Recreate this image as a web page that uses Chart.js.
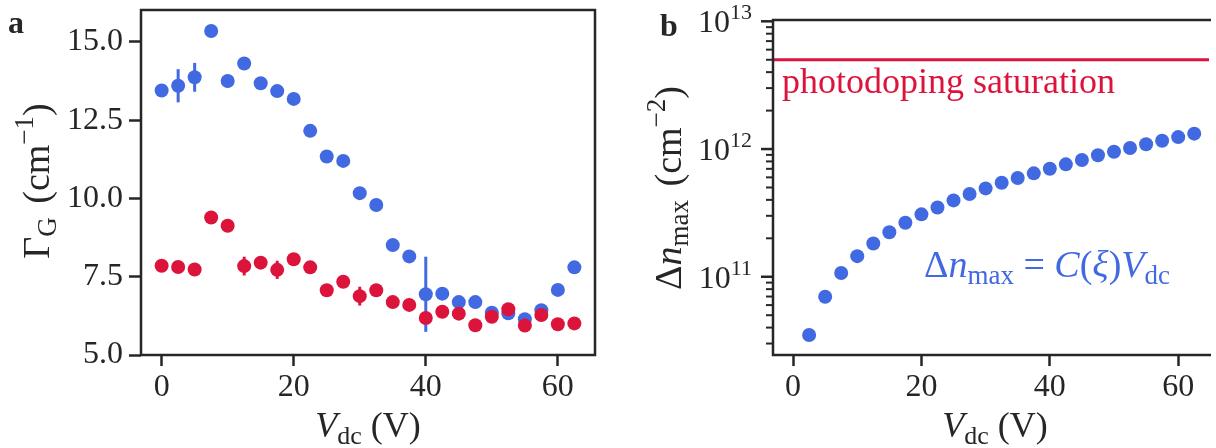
<!DOCTYPE html>
<html lang="en">

<head>
    <meta charset="UTF-8">
    <title>linewidth and photodoping</title>
    <script src="https://cdn.jsdelivr.net/npm/chart.js@4.4.1/dist/chart.umd.min.js"></script>
    <style>
        body {
            margin: 0;
            background: #fff;
            overflow: hidden;
        }

        canvas {
            position: absolute;
            top: 0;
        }
    </style>
</head>

<body>
    <canvas id="chartA" width="620" height="448" style="left:0"></canvas>
    <canvas id="chartB" width="596" height="448" style="left:620px"></canvas>

    <script>
        // panel a: G-peak width vs dc voltage
        const vdc = [0, 2.5, 5, 7.5, 10, 12.5, 15, 17.5, 20, 22.5, 25, 27.5, 30, 32.5, 35, 37.5, 40, 42.5, 45, 47.5, 50, 52.5, 55, 57.5, 60, 62.5];
        const gammaBlue = [13.45, 13.6, 13.87, 15.35, 13.75, 14.31, 13.68, 13.43, 13.18, 12.16, 11.34, 11.2, 10.17, 9.79, 8.51, 8.15, 6.94, 6.96, 6.69, 6.69, 6.35, 6.33, 6.14, 6.43, 7.08, 7.8];
        const errBlue = [0, 0.53, 0.46, 0, 0.2, 0, 0, 0, 0, 0, 0, 0, 0, 0, 0, 0, 1.2, 0, 0, 0, 0, 0, 0, 0, 0, 0];
        const gammaRed = [7.85, 7.81, 7.73, 9.39, 9.13, 7.84, 7.95, 7.72, 8.06, 7.8, 7.07, 7.34, 6.88, 7.07, 6.69, 6.6, 6.18, 6.38, 6.32, 5.95, 6.22, 6.46, 5.94, 6.28, 5.98, 6.01];
        const errRed = [0, 0, 0, 0, 0, 0.3, 0, 0.29, 0, 0, 0, 0, 0.3, 0, 0, 0, 0, 0, 0, 0, 0, 0, 0, 0, 0, 0];
        const gammaTicks = [5, 7.5, 10, 12.5, 15];
        const vTicks = [0, 20, 40, 60];

        // panel b: max photodoping
        const vdcB = [2.5, 5, 7.5, 10, 12.5, 15, 17.5, 20, 22.5, 25, 27.5, 30, 32.5, 35, 37.5, 40, 42.5, 45, 47.5, 50, 52.5, 55, 57.5, 60, 62.5];
        const dnMax = [3.5e10, 6.97e10, 1.07e11, 1.45e11, 1.82e11, 2.23e11, 2.65e11, 3.08e11, 3.49e11, 3.96e11, 4.44e11, 4.92e11, 5.45e11, 5.93e11, 6.45e11, 7.01e11, 7.59e11, 8.2e11, 8.93e11, 9.53e11, 1.02e12, 1.09e12, 1.16e12, 1.24e12, 1.32e12];
        const saturation = 5e12;
        const dnMajor = [1e11, 1e12, 1e13];

        const BLUE = '#4169E1';
        const RED = '#DC143C';
        const INK = '#262626';
        const SERIF = '"Liberation Serif", "Times New Roman", serif';

        function pts(xs, ys) {
            return xs.map((x, i) => ({ x: x, y: ys[i] }));
        }

        // draws a row of text pieces (sub/superscripts, italics) from a baseline point
        function rich(ctx, parts, x, y, align, angle, color) {
            ctx.save();
            ctx.translate(x, y);
            ctx.rotate(angle || 0);
            ctx.textBaseline = 'alphabetic';
            ctx.textAlign = 'left';
            let total = 0;
            parts.forEach(p => {
                ctx.font = (p.it ? 'italic ' : '') + (p.b ? 'bold ' : '') + (p.s || 36) + 'px ' + SERIF;
                p.w = ctx.measureText(p.t).width + (p.gap || 0);
                total += p.w;
            });
            let cx = align === 'center' ? -total / 2 : align === 'right' ? -total : 0;
            parts.forEach(p => {
                ctx.font = (p.it ? 'italic ' : '') + (p.b ? 'bold ' : '') + (p.s || 36) + 'px ' + SERIF;
                ctx.fillStyle = color || INK;
                ctx.fillText(p.t, cx, p.dy || 0);
                cx += p.w;
            });
            ctx.restore();
        }

        const vLabel = [{ t: 'V', it: true }, { t: 'dc', s: 26, dy: 7 }, { t: ' (V)' }];

        const errorBars = {
            id: 'errorBars',
            beforeDatasetDraw(chart, args) {
                const ds = chart.data.datasets[args.index];
                if (!ds.err) return;
                const ctx = chart.ctx, xs = chart.scales.x, ys = chart.scales.y;
                ctx.save();
                ctx.strokeStyle = ds.backgroundColor;
                ctx.lineWidth = 3;
                ds.data.forEach((p, i) => {
                    const e = ds.err[i];
                    if (!e) return;
                    const x = xs.getPixelForValue(p.x);
                    ctx.beginPath();
                    ctx.moveTo(x, ys.getPixelForValue(p.y - e));
                    ctx.lineTo(x, ys.getPixelForValue(p.y + e));
                    ctx.stroke();
                });
                ctx.restore();
            }
        };

        const decoA = {
            id: 'decoA',
            afterDraw(chart) {
                const ctx = chart.ctx, a = chart.chartArea;
                ctx.save();
                ctx.strokeStyle = INK;
                ctx.lineWidth = 2.5;
                ctx.strokeRect(a.left, a.top, a.right - a.left, a.bottom - a.top);
                ctx.restore();
                rich(ctx, [{ t: 'a', b: true, s: 32 }], 8, 33, 'left');
                rich(ctx, [{ t: 'Γ', s: 38 }, { t: 'G', s: 27, dy: 7, gap: 4 }, { t: ' (cm', s: 38 }, { t: '−1', s: 27, dy: -16 }, { t: ')', s: 38 }],
                    49, 181, 'center', -Math.PI / 2);
                rich(ctx, vLabel, (a.left + a.right) / 2, 437, 'center');
            }
        };

        const decoB = {
            id: 'decoB',
            afterDraw(chart) {
                const ctx = chart.ctx, a = chart.chartArea, xs = chart.scales.x, ys = chart.scales.y;
                ctx.save();
                ctx.strokeStyle = INK;
                ctx.lineWidth = 2.5;
                ctx.beginPath();
                ctx.moveTo(a.right + 2, a.top);
                ctx.lineTo(a.left, a.top);
                ctx.lineTo(a.left, a.bottom);
                ctx.lineTo(a.right + 2, a.bottom);
                ctx.stroke();
                // log ticks, majors longer than minors
                ys.ticks.forEach(t => {
                    const y = ys.getPixelForValue(t.value);
                    const major = dnMajor.includes(t.value);
                    ctx.lineWidth = major ? 2.5 : 2;
                    ctx.beginPath();
                    ctx.moveTo(a.left, y);
                    ctx.lineTo(a.left - (major ? 12 : 7), y);
                    ctx.stroke();
                });
                ctx.restore();
                dnMajor.forEach(v => {
                    const y = ys.getPixelForValue(v);
                    const e = Math.round(Math.log10(v));
                    rich(ctx, [{ t: '10', s: 32 }, { t: String(e), s: 22, dy: -13 }], a.left - 21, y + 11, 'right');
                });
                rich(ctx, [{ t: 'b', b: true, s: 32 }], 40, 36, 'left');
                rich(ctx, [{ t: 'Δ', s: 38 }, { t: 'n', it: true, s: 38 }, { t: 'max', s: 27, dy: 7, gap: 4 }, { t: ' (cm', s: 38 }, { t: '−2', s: 27, dy: -16 }, { t: ')', s: 38 }],
                    61, 188, 'center', -Math.PI / 2);
                rich(ctx, vLabel, (a.left + a.right) / 2 + 4, 437, 'center');
                rich(ctx, [{ t: 'photodoping saturation', s: 36 }], a.left + 9, ys.getPixelForValue(saturation) + 33, 'left', 0, RED);
                rich(ctx, [{ t: 'Δ', s: 38 }, { t: 'n', it: true, s: 38 }, { t: 'max', s: 27, dy: 7 }, { t: ' = ', s: 38 }, { t: 'C', it: true, s: 38 }, { t: '(', s: 38 },
                    { t: 'ξ', it: true, s: 38 }, { t: ')', s: 38 }, { t: 'V', it: true, s: 38 }, { t: 'dc', s: 27, dy: 7 }],
                    xs.getPixelForValue(20.4), ys.getPixelForValue(1e11), 'left', 0, BLUE);
            }
        };

        const tickFont = { family: SERIF, size: 32 };

        // keep the plot boxes exactly where the figure has them
        function noPad(s) {
            s.paddingTop = 0;
            s.paddingBottom = 0;
            s.paddingLeft = 0;
            s.paddingRight = 0;
        }

        new Chart(document.getElementById('chartA'), {
            type: 'scatter',
            data: {
                datasets: [{
                    data: pts(vdc, gammaBlue),
                    err: errBlue,
                    backgroundColor: BLUE,
                    borderWidth: 0,
                    pointRadius: 7,
                    order: 2
                }, {
                    data: pts(vdc, gammaRed),
                    err: errRed,
                    backgroundColor: RED,
                    borderWidth: 0,
                    pointRadius: 7,
                    order: 1
                }]
            },
            options: {
                responsive: false,
                animation: false,
                layout: { padding: { top: 10, right: 25, left: 0, bottom: 0 } },
                plugins: { legend: { display: false }, tooltip: { enabled: false } },
                scales: {
                    x: {
                        type: 'linear', min: -3.125, max: 65.625,
                        afterBuildTicks: s => { s.ticks = vTicks.map(v => ({ value: v })); },
                        afterFit: s => { s.height = 93; noPad(s); },
                        border: { display: false },
                        grid: { drawOnChartArea: false, tickLength: 11, tickWidth: 2.5, tickColor: INK },
                        ticks: { font: tickFont, color: INK, padding: 2, maxRotation: 0 }
                    },
                    y: {
                        type: 'linear', min: 5, max: 16.02,
                        afterBuildTicks: s => { s.ticks = gammaTicks.map(v => ({ value: v })); },
                        afterFit: s => { s.width = 141; noPad(s); },
                        border: { display: false },
                        grid: { drawOnChartArea: false, tickLength: 12, tickWidth: 2.5, tickColor: INK },
                        ticks: { font: tickFont, color: INK, padding: 6, callback: v => v.toFixed(1) }
                    }
                }
            },
            plugins: [errorBars, decoA]
        });

        new Chart(document.getElementById('chartB'), {
            type: 'scatter',
            data: {
                datasets: [{
                    type: 'line',
                    data: [{ x: -3.125, y: saturation }, { x: 64.8, y: saturation }],
                    borderColor: RED,
                    borderWidth: 3,
                    pointRadius: 0,
                    order: 2
                }, {
                    data: pts(vdcB, dnMax),
                    backgroundColor: BLUE,
                    borderWidth: 0,
                    pointRadius: 7,
                    order: 1
                }]
            },
            options: {
                responsive: false,
                animation: false,
                layout: { padding: { top: 20, right: 0, left: 0, bottom: 0 } },
                plugins: { legend: { display: false }, tooltip: { enabled: false } },
                scales: {
                    x: {
                        type: 'linear', min: -3.125, max: 64.8,
                        afterBuildTicks: s => { s.ticks = vTicks.map(v => ({ value: v })); },
                        afterFit: s => { s.height = 93; noPad(s); },
                        border: { display: false },
                        grid: { drawOnChartArea: false, tickLength: 11, tickWidth: 2.5, tickColor: INK },
                        ticks: { font: tickFont, color: INK, padding: 2, maxRotation: 0 }
                    },
                    y: {
                        type: 'logarithmic', min: 2.44e10, max: 1.024e13,
                        afterBuildTicks: s => {
                            const t = [];
                            for (let e = 10; e <= 13; e++) {
                                for (let m = 1; m <= 9; m++) {
                                    const v = m * Math.pow(10, e);
                                    if (v >= s.min && v <= s.max) t.push({ value: v });
                                }
                            }
                            s.ticks = t;
                        },
                        afterFit: s => { s.width = 153; noPad(s); },
                        border: { display: false },
                        grid: { display: false },
                        ticks: { display: false }
                    }
                }
            },
            plugins: [decoB]
        });
    </script>

</body>

</html>
